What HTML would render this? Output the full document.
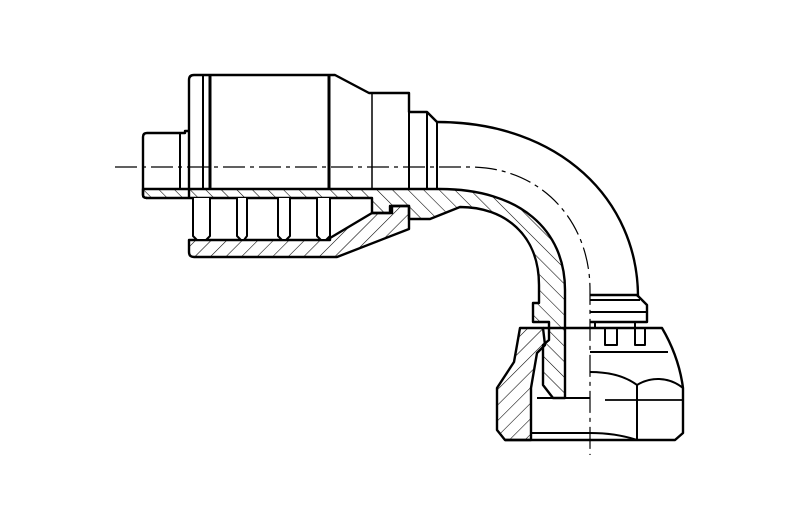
<!DOCTYPE html>
<html><head><meta charset="utf-8"><style>html,body{margin:0;padding:0;background:#fff}svg{display:block}</style></head>
<body>
<svg width="798" height="517" viewBox="0 0 798 517" xmlns="http://www.w3.org/2000/svg">
<defs>
<pattern id="hf" width="11" height="11" patternUnits="userSpaceOnUse" patternTransform="rotate(45)"><line x1="0" y1="0" x2="0" y2="11" stroke="#000" stroke-width="1.1"/></pattern>
<pattern id="hb" width="11" height="11" patternUnits="userSpaceOnUse" patternTransform="rotate(-45)"><line x1="0" y1="0" x2="0" y2="11" stroke="#000" stroke-width="1.1"/></pattern>
</defs>
<g fill="none" stroke="#000" stroke-width="2.4" stroke-linejoin="round">
<path d="M189,198 L189,80 Q189,75 194,75 L335,75 L369,93 L409,93 L409,112 L427,112 L437,122"/>
<line x1="203" y1="75" x2="203" y2="189" stroke-width="2"/>
<line x1="210" y1="75" x2="210" y2="189" stroke-width="3"/>
<line x1="329" y1="75" x2="329" y2="189" stroke-width="3"/>
<line x1="372" y1="93" x2="372" y2="189" stroke-width="1.5"/>
<line x1="409" y1="112" x2="409" y2="189" stroke-width="2"/>
<line x1="427" y1="112" x2="427" y2="189" stroke-width="2"/>
<line x1="437" y1="122" x2="437" y2="189" stroke-width="2"/>
<path d="M189,131 L185,131 L185,133 L147,133 Q143,133 143,137 L143,195 Q143,198 147,198"/>
<line x1="180" y1="133" x2="180" y2="189" stroke-width="2"/>
<path d="M437,122 C560,122 638,200 638,297"/>
<path d="M115,167 L470,167 C540,167 590,220 590,290 L590,455" stroke-width="1.2" stroke-dasharray="22 5 4 5"/>
<path fill="url(#hb)" d="M143,189 L440,189 C520,189 565,230 565,290 L565,398 L553,398 L543,385 L543,345 L549,340 L549,322 L533,322 L533,303 L539,303 L539,285 C539,235 505,207 460,207 L430,219 L409,219 L409,206 L390,206 L390,213 L372,213 L372,198 L147,198 Q143,198 143,195 Z"/>
<path fill="url(#hf)" d="M189,240 L189,252 Q189,257 194,257 L337,257 L409,229 L409,219 L409,206 L392,206 L392,213 L372,213 L330,238 L330,240 Z"/>
<g fill="#fff" stroke-width="2">
<path d="M193,198 L193,236 L197,240 L206,240 L210,236 L210,198"/>
<path d="M237,198 L237,236 L241,240 L244,240 L247,236 L247,198"/>
<path d="M278,198 L278,236 L282,240 L286,240 L290,236 L290,198"/>
<path d="M317,198 L317,236 L321,240 L326,240 L330,236 L330,198"/>
</g>
<path d="M590,295 L637,295 L647,305 L647,322 L590,322"/>
<line x1="590" y1="300" x2="640" y2="300" stroke-width="2"/>
<line x1="590" y1="312" x2="647" y2="312" stroke-width="2"/>
<path d="M595,322 L595,328 M635,322 L635,328" stroke-width="2"/>
<path fill="url(#hf)" d="M520,328 L543,328 L545,345 L537,353 L531,388 L531,440 L505,440 L497,430 L497,388 L514,362 Z"/>
<path d="M543,328 L662,328 C672,345 680,365 683,388 L683,433 L675,440 L505,440"/>
<path d="M605,328 L605,345 L617,345 L617,328 M635,328 L635,345 L645,345 L645,328" stroke-width="2"/>
<line x1="590" y1="352" x2="668" y2="352" stroke-width="2"/>
<path d="M590,372 C610,372 625,376 637,385 C650,377 668,376 683,388" stroke-width="2"/>
<line x1="637" y1="385" x2="637" y2="440" stroke-width="2"/>
<line x1="605" y1="400" x2="683" y2="400" stroke-width="1.8"/>
<line x1="537" y1="398" x2="590" y2="398" stroke-width="2"/>
<line x1="531" y1="433" x2="590" y2="433" stroke-width="2"/>
<path d="M590,433 C610,433 625,436 637,440" stroke-width="2"/>
</g>
</svg>
</body></html>
